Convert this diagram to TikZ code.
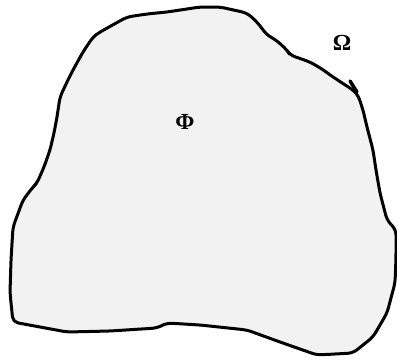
\documentclass[tikz,border=0pt]{standalone}
\usepackage{fontspec}
\setmainfont{Liberation Serif}
\begin{document}
\begin{tikzpicture}[x=1pt,y=-1pt,
  blob/.style={draw=black,line width=3pt,line join=round,line cap=round,fill=black!5,rounded corners=5pt},
  lbl/.style={font=\fontsize{23}{25}\selectfont\bfseries,inner sep=0pt}]
\useasboundingbox (0,0) rectangle (397,360);
\draw[blob] (220,7) -- (247,13) -- (257,22) -- (267,35) -- (276,40) -- (287,50) -- (290,55)
  -- (310,62) -- (322,69) -- (333,77) -- (353,90) -- (358,95) -- (363,110) -- (367,127)
  -- (373,150) -- (376,170) -- (380,193) -- (387,220) -- (396,230) -- (396,258) -- (395,283)
  -- (387,313) -- (373,337) -- (353,353) -- (317,355) -- (280,342) -- (247,330)
  -- (200,325) -- (167,323) -- (157,328) -- (110,331) -- (67,332) -- (13,322)
  -- (10,293) -- (11,260) -- (13,227) -- (23,200) -- (33,187) -- (37,183) -- (44,167)
  -- (50,150) -- (54,133) -- (57,117) -- (60,97) -- (66,84) -- (73,70) -- (83,52)
  -- (93,37) -- (100,32) -- (127,17) -- (147,14) -- (167,12) -- (200,7) -- cycle;
\draw[line width=3.5pt,line cap=round] (350,81) -- (357,92);
\node[lbl] (omega) at (342,43) {Ω};
\node[lbl] (phi) at (185,122) {Φ};
\end{tikzpicture}
\end{document}
